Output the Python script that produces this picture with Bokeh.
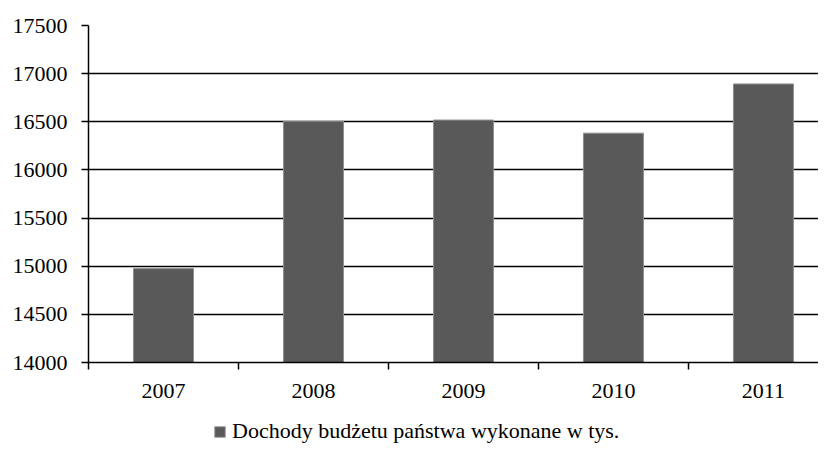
from bokeh.plotting import figure
from bokeh.layouts import column
from bokeh.models import Range1d, FixedTicker, Legend, LegendItem, ColumnDataSource
from bokeh.embed import file_html
from bokeh.resources import INLINE

years = [2007, 2008, 2009, 2010, 2011]
year_labels = ["2007", "2008", "2009", "2010", "2011"]
values = [14975, 16505, 16518, 16382, 16893]
y_ticks = [14000, 14500, 15000, 15500, 16000, 16500, 17000, 17500]
series_name = "Dochody budżetu państwa wykonane w tys."

FONT = "Liberation Serif"
BAR_FILL = "#595959"
BAR_LINE = "#8f8f8f"

p = figure(frame_width=730, frame_height=337, output_backend="svg", toolbar_location=None,
           x_range=Range1d(2006.5, 2011.367), y_range=Range1d(14000, 17500))
p.min_border_top = 25
p.min_border_left = 88
p.min_border_right = 0
p.min_border_bottom = 50
p.outline_line_color = None
p.background_fill_color = "white"
p.border_fill_color = "white"

src = ColumnDataSource(dict(x=years, top=values))
r = p.vbar(x="x", top="top", bottom=14000, width=0.4, source=src,
           fill_color=BAR_FILL, line_color=BAR_LINE, line_width=1)

# x axis
xa = p.xaxis[0]
xa.ticker = FixedTicker(ticks=years, minor_ticks=[y - 0.5 for y in years] + [2011.5])
xa.major_label_overrides = {y: l for y, l in zip(years, year_labels)}
xa.major_tick_out = 0
xa.major_tick_in = 0
xa.minor_tick_out = 7
xa.minor_tick_in = 0
xa.minor_tick_line_color = "black"
xa.minor_tick_line_width = 1.5
xa.axis_line_color = "black"
xa.axis_line_width = 1.5
xa.major_label_text_font = FONT
xa.major_label_text_font_size = "22px"
xa.major_label_text_color = "black"
xa.major_label_standoff = 14

# y axis
ya = p.yaxis[0]
ya.ticker = FixedTicker(ticks=y_ticks)
ya.major_label_overrides = {t: str(t) for t in y_ticks}
ya.major_tick_out = 7
ya.major_tick_in = 0
ya.major_tick_line_color = "black"
ya.major_tick_line_width = 1.5
ya.minor_tick_line_color = None
ya.axis_line_color = "black"
ya.axis_line_width = 1.5
ya.major_label_text_font = FONT
ya.major_label_text_font_size = "22px"
ya.major_label_text_color = "black"
ya.major_label_standoff = 14

p.xgrid.grid_line_color = None
p.ygrid.grid_line_color = "black"
p.ygrid.grid_line_width = 1.5
p.ygrid.ticker = FixedTicker(ticks=y_ticks)

# legend strip below the chart (same series, drawn off-range so only the legend shows)
lg = figure(width=818, height=40, output_backend="svg", toolbar_location=None,
            x_range=Range1d(0, 1), y_range=Range1d(0, 1),
            x_axis_location=None, y_axis_location=None)
lg.min_border = 0
lg.outline_line_color = None
lg.grid.grid_line_color = None
lg.background_fill_color = "white"
lg.border_fill_color = "white"
proxy = lg.vbar(x="x", top="top", bottom=14000, width=0.4, source=src,
                fill_color=BAR_FILL, line_color=BAR_LINE, line_width=1)

legend = Legend(items=[LegendItem(label=series_name, renderers=[proxy])],
                orientation="horizontal", location=(125, 8))
legend.label_text_font = FONT
legend.label_text_font_size = "22px"
legend.label_text_color = "black"
legend.glyph_width = 13
legend.glyph_height = 13
legend.label_standoff = 6
legend.border_line_color = None
legend.background_fill_alpha = 0
legend.padding = 0
legend.margin = 0
lg.add_layout(legend, "center")

layout = column(p, lg, spacing=0)

open("out.html", "w").write(file_html(layout, INLINE))
